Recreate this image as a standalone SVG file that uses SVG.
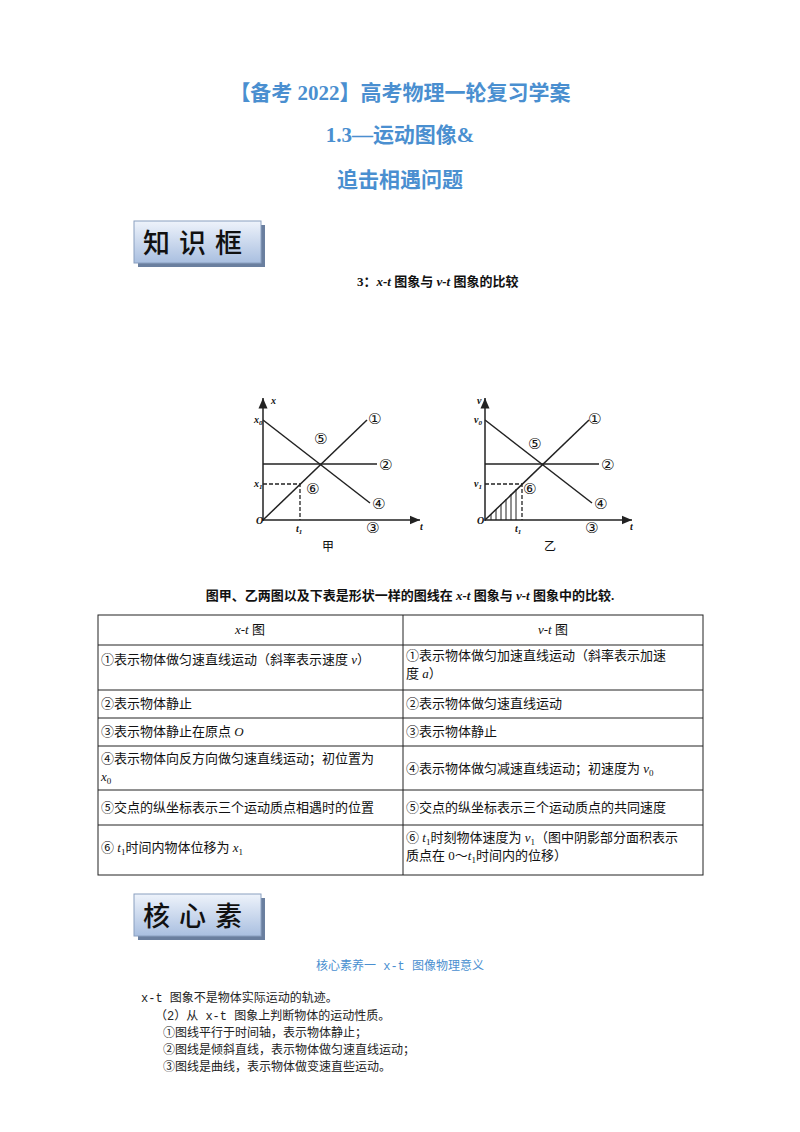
<svg xmlns="http://www.w3.org/2000/svg" width="800" height="1132" viewBox="0 0 800 1132">
<style>
.t{font-family:"Liberation Serif","Noto Sans CJK SC",serif;font-weight:bold;fill:#4a8fd0;font-size:21px;text-anchor:middle}
.c{font-family:"Liberation Serif","Noto Sans CJK SC",serif;font-size:13px;fill:#111}
.b{font-family:"Liberation Serif","Noto Sans CJK SC",serif;font-size:13px;font-weight:bold;fill:#111}
.g{font-family:"DejaVu Sans","Noto Sans CJK SC",sans-serif;font-size:15px;fill:#111}
.gz{font-family:"Noto Sans CJK SC",sans-serif;font-size:12px;fill:#111}
.gi{font-family:"Liberation Serif",serif;font-size:10px;font-weight:bold;font-style:italic;fill:#111}
.ln{stroke:#222;stroke-width:1.5;fill:none}
.d{stroke:#222;stroke-width:1.3;fill:none;stroke-dasharray:4 2}
.tb{stroke:#222;stroke-width:1;fill:none}
.bx{font-family:"Noto Sans CJK SC",sans-serif;font-size:27px;font-weight:500;fill:#111}
.m{font-family:"Liberation Mono","Noto Sans CJK SC",monospace;font-size:12px;fill:#222}
</style>
<defs>
<linearGradient id="bg" x1="0" y1="0" x2="0" y2="1"><stop offset="0" stop-color="#eef3fb"/><stop offset="1" stop-color="#a9bfe0"/></linearGradient>
<marker id="ar" markerWidth="8" markerHeight="8" refX="7" refY="4" orient="auto"><path d="M0,1 L7,4 L0,7 z" fill="#222"/></marker>
</defs>
<rect width="800" height="1132" fill="#fff"/>
<text class="t" x="400" y="100">【备考 2022】高考物理一轮复习学案</text>
<text class="t" x="400" y="142">1.3—运动图像&amp;</text>
<text class="t" x="400" y="187">追击相遇问题</text>
<g id="box1"><rect x="138" y="225" width="127" height="42" fill="#6a7f9f"/><rect x="134" y="221" width="127" height="42" fill="url(#bg)" stroke="#8aa0c0"/><text class="bx" x="197" y="253" text-anchor="middle" letter-spacing="9">知识框</text></g>
<text class="b" x="357" y="286">3：<tspan font-style="italic">x-t</tspan> 图象与 <tspan font-style="italic">v-t</tspan> 图象的比较</text>
<g id="graph1">
<line class="ln" x1="263" y1="521" x2="263" y2="398" marker-end="url(#ar)"/>
<line class="ln" x1="263" y1="520" x2="420" y2="520" marker-end="url(#ar)"/>
<line class="ln" x1="263" y1="520" x2="367" y2="420"/>
<line class="ln" x1="263" y1="420" x2="370" y2="503"/>
<line class="ln" x1="263" y1="464" x2="377" y2="464"/>
<polyline class="d" points="263,484 300,484 300,520"/>
<text class="gi" x="271" y="404">x</text><text class="gi" x="254" y="423">x<tspan font-size="7" dy="2">0</tspan></text>
<text class="gi" x="254" y="487">x<tspan font-size="7" dy="2">1</tspan></text>
<text class="gi" x="256" y="524" font-size="12">O</text><text class="gi" x="296" y="532">t<tspan font-size="7" dy="2">1</tspan></text>
<text class="gi" x="420" y="530">t</text>
<text class="g" x="368" y="424">①</text><text class="g" x="379" y="470">②</text><text class="g" x="366" y="533">③</text><text class="g" x="372" y="509">④</text><text class="g" x="314" y="444">⑤</text><text class="g" x="306" y="494">⑥</text>
<text class="gz" x="322" y="551">甲</text>
</g>
<g id="graph2">
<line class="ln" x1="485" y1="521" x2="485" y2="398" marker-end="url(#ar)"/>
<line class="ln" x1="485" y1="520" x2="632" y2="520" marker-end="url(#ar)"/>
<line class="ln" x1="485" y1="520" x2="589" y2="420"/>
<line class="ln" x1="485" y1="420" x2="592" y2="503"/>
<line class="ln" x1="485" y1="464" x2="599" y2="464"/>
<polyline class="d" points="485,484 522,484 522,520"/>
<path d="M491,514V520M496,509V520M501,504V520M506,499V520M511,494V520M516,489V520" stroke="#222" stroke-width="1"/>
<text class="gi" x="477" y="404">v</text><text class="gi" x="474" y="423">v<tspan font-size="7" dy="2">0</tspan></text>
<text class="gi" x="474" y="487">v<tspan font-size="7" dy="2">1</tspan></text>
<text class="gi" x="477" y="524" font-size="12">O</text><text class="gi" x="515" y="532">t<tspan font-size="7" dy="2">1</tspan></text>
<text class="gi" x="630" y="530">t</text>
<text class="g" x="588" y="424">①</text><text class="g" x="601" y="470">②</text><text class="g" x="585" y="533">③</text><text class="g" x="594" y="509">④</text><text class="g" x="528" y="449">⑤</text><text class="g" x="523" y="494">⑥</text>
<text class="gz" x="544" y="551">乙</text>
</g>
<text class="b" x="410" y="600" text-anchor="middle">图甲、乙两图以及下表是形状一样的图线在 <tspan font-style="italic">x-t</tspan> 图象与 <tspan font-style="italic">v-t</tspan> 图象中的比较.</text>
<g id="table">
<rect class="tb" x="98" y="615" width="605" height="260"/>
<line class="tb" x1="403" y1="615" x2="403" y2="875"/>
<path class="tb" d="M98,645H703M98,690H703M98,718H703M98,746H703M98,790H703M98,825H703"/>
<text class="c" x="250" y="634" text-anchor="middle"><tspan font-style="italic">x-t</tspan> 图</text>
<text class="c" x="553" y="634" text-anchor="middle"><tspan font-style="italic">v-t</tspan> 图</text>
<text class="c" x="101" y="664">①表示物体做匀速直线运动（斜率表示速度 <tspan font-style="italic">v</tspan>）</text>
<text class="c" x="406" y="660">①表示物体做匀加速直线运动（斜率表示加速</text>
<text class="c" x="406" y="678">度 <tspan font-style="italic">a</tspan>）</text>
<text class="c" x="101" y="708">②表示物体静止</text><text class="c" x="406" y="708">②表示物体做匀速直线运动</text>
<text class="c" x="101" y="736">③表示物体静止在原点 <tspan font-style="italic">O</tspan></text><text class="c" x="406" y="736">③表示物体静止</text>
<text class="c" x="101" y="763">④表示物体向反方向做匀速直线运动；初位置为</text>
<text class="c" x="101" y="781"><tspan font-style="italic">x</tspan><tspan font-size="9" dy="3">0</tspan></text>
<text class="c" x="406" y="773">④表示物体做匀减速直线运动；初速度为 <tspan font-style="italic">v</tspan><tspan font-size="9" dy="3">0</tspan></text>
<text class="c" x="101" y="812">⑤交点的纵坐标表示三个运动质点相遇时的位置</text>
<text class="c" x="406" y="812">⑤交点的纵坐标表示三个运动质点的共同速度</text>
<text class="c" x="101" y="852">⑥ <tspan font-style="italic">t</tspan><tspan font-size="9" dy="3">1</tspan><tspan dy="-3">时间内物体位移为 </tspan><tspan font-style="italic">x</tspan><tspan font-size="9" dy="3">1</tspan></text>
<text class="c" x="406" y="842">⑥ <tspan font-style="italic">t</tspan><tspan font-size="9" dy="3">1</tspan><tspan dy="-3">时刻物体速度为 </tspan><tspan font-style="italic">v</tspan><tspan font-size="9" dy="3">1</tspan><tspan dy="-3">（图中阴影部分面积表示</tspan></text>
<text class="c" x="406" y="860">质点在 0～<tspan font-style="italic">t</tspan><tspan font-size="9" dy="3">1</tspan><tspan dy="-3">时间内的位移）</tspan></text>
</g>
<g id="box2"><rect x="138" y="898" width="127" height="42" fill="#6a7f9f"/><rect x="134" y="894" width="127" height="42" fill="url(#bg)" stroke="#8aa0c0"/><text class="bx" x="197" y="926" text-anchor="middle" letter-spacing="9">核心素</text></g>
<text class="m" x="400" y="970" text-anchor="middle" style="fill:#4a8fd0">核心素养一 x-t 图像物理意义</text>
<text class="m" x="141" y="1002">x-t 图象不是物体实际运动的轨迹。</text>
<text class="m" x="155" y="1020">（2）从 x-t 图象上判断物体的运动性质。</text>
<text class="m" x="163" y="1037">①图线平行于时间轴，表示物体静止；</text>
<text class="m" x="163" y="1054">②图线是倾斜直线，表示物体做匀速直线运动；</text>
<text class="m" x="163" y="1071">③图线是曲线，表示物体做变速直些运动。</text>
</svg>
